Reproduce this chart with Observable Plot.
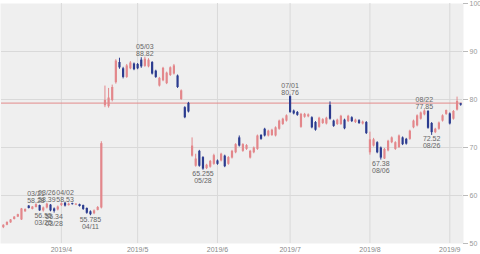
<!DOCTYPE html>
<html>
<head>
<meta charset="utf-8">
<script src="https://cdn.jsdelivr.net/npm/d3@7"></script>
<script src="https://cdn.jsdelivr.net/npm/@observablehq/plot@0.6"></script>
<style>
  html, body { margin: 0; padding: 0; background: #fff; }
  #chart svg { display: block; }
</style>
</head>
<body>
<div id="chart"></div>
<script>
const dates = [
  "03/08","03/11","03/12","03/13","03/14","03/15","03/18","03/19","03/20","03/21","03/22","03/25","03/26","03/27","03/28","03/29",
  "04/01","04/02","04/03","04/04","04/05","04/08","04/09","04/10","04/11","04/12","04/15","04/16","04/17","04/18","04/22","04/23","04/24","04/25","04/26","04/29","04/30",
  "05/01","05/02","05/03","05/06","05/07","05/08","05/09","05/10","05/13","05/14","05/15","05/16","05/17","05/20","05/21","05/22","05/23","05/24","05/28","05/29","05/30","05/31",
  "06/03","06/04","06/05","06/06","06/07","06/10","06/11","06/12","06/13","06/14","06/17","06/18","06/19","06/20","06/21","06/24","06/25","06/26","06/27","06/28",
  "07/01","07/02","07/03","07/05","07/08","07/09","07/10","07/11","07/12","07/15","07/16","07/17","07/18","07/19","07/22","07/23","07/24","07/25","07/26","07/29","07/30","07/31",
  "08/01","08/02","08/05","08/06","08/07","08/08","08/09","08/12","08/13","08/14","08/15","08/16","08/19","08/20","08/21","08/22","08/23","08/26","08/27","08/28","08/29","08/30",
  "09/03","09/04","09/05","09/06"
];
const open = [
  53.3,53.8,54.3,55.0,55.5,54.9,56.6,57.8,57.1,57.5,57.9,56.8,57.4,58.0,57.2,57.0,
  57.9,58.4,57.9,58.3,58.0,58.1,57.9,57.3,56.6,56.2,56.9,57.4,78.7,78.5,79.8,83.5,87.7,86.4,84.6,86.4,87.4,
  87.3,88.2,86.9,86.8,87.7,85.9,82.8,83.9,83.3,85.0,85.3,84.9,80.0,78.3,79.2,68.2,66.1,69.2,67.9,65.6,65.9,66.5,
  67.2,67.2,68.2,66.5,67.8,68.9,72.0,69.2,69.6,67.8,68.9,69.6,72.5,73.8,72.4,72.5,72.4,73.8,74.8,75.5,
  80.6,77.6,77.3,74.2,76.3,76.4,76.2,75.2,74.2,75.0,74.9,78.8,75.5,74.8,74.8,75.7,75.4,76.2,75.2,75.6,74.9,75.2,
  68.9,70.3,71.0,69.9,67.6,69.3,71.0,69.6,70.0,72.0,71.7,71.7,74.1,74.5,75.9,76.8,77.5,75.0,73.1,73.8,75.5,76.9,
  77.0,75.9,77.8,79.1
];
const high = [
  53.9,54.5,55.0,55.6,56.1,57.3,57.2,57.9,57.7,58.28,58.0,57.6,58.39,58.1,57.4,57.8,
  58.45,58.53,58.4,58.4,58.3,58.2,58.0,57.4,56.8,57.0,57.7,71.2,82.8,82.3,83.0,88.3,88.6,86.7,87.3,87.9,87.6,
  87.5,88.7,88.82,88.5,87.9,86.1,84.6,86.7,85.7,86.8,87.3,85.1,82.0,78.5,79.4,72.0,68.6,69.4,68.1,66.5,67.3,68.6,
  67.4,68.8,68.4,68.1,69.4,70.8,72.4,70.8,70.6,69.4,70.1,72.6,72.7,74.0,73.6,73.8,74.3,75.7,76.1,76.8,
  80.76,77.8,77.5,77.1,77.1,77.0,76.4,75.4,76.3,76.0,76.3,79.5,75.7,75.9,76.7,75.9,76.7,76.4,75.9,75.8,75.5,75.4,
  73.2,71.9,71.2,70.1,69.8,71.5,72.2,71.2,72.6,72.2,71.9,73.6,75.7,76.8,77.4,77.85,77.7,75.2,74.0,75.3,76.8,77.8,
  77.2,77.7,80.5,79.2
];
const low = [
  53.1,53.7,54.2,54.9,55.4,54.8,56.5,57.2,57.0,57.4,56.7,56.55,57.2,56.6,56.34,56.8,
  57.7,57.6,57.8,58.0,57.9,57.6,56.9,56.1,55.785,56.0,56.8,57.2,78.3,78.2,79.5,83.2,86.3,84.3,84.4,86.2,86.0,
  86.2,86.5,86.7,86.6,85.1,84.4,82.6,83.7,83.1,84.8,85.1,82.3,79.8,76.0,77.2,68.0,65.9,65.9,65.255,65.4,65.7,66.3,
  66.3,67.0,65.8,66.3,67.6,68.7,70.1,69.0,69.4,67.6,68.7,69.4,71.5,72.2,72.2,72.3,72.2,73.6,74.6,75.3,
  77.1,76.8,76.5,74.0,76.1,76.2,73.9,73.4,74.0,74.8,74.7,75.7,74.2,74.6,74.6,73.7,75.2,75.2,75.0,74.8,74.7,72.7,
  68.4,70.1,68.7,67.38,67.5,69.1,70.8,69.4,69.8,70.4,70.5,71.5,73.9,74.3,75.7,76.6,73.8,72.52,72.9,73.6,75.3,76.7,
  74.7,75.7,77.6,78.6
];
const close = [
  53.8,54.4,54.9,55.5,56.0,57.2,57.1,57.3,57.6,58.1,56.8,57.4,58.2,56.8,56.7,57.6,
  58.3,57.8,58.2,58.1,58.2,57.7,57.1,56.3,56.0,56.8,57.5,70.8,79.8,80.3,82.5,88.0,86.6,84.6,87.0,87.6,86.2,
  86.4,86.8,88.4,88.2,85.3,84.6,84.4,86.5,85.5,86.6,87.0,82.5,81.8,76.2,77.4,70.3,67.6,66.1,65.5,66.3,67.1,68.3,
  66.5,68.6,66.0,67.9,69.2,70.6,70.3,70.6,70.4,69.2,69.9,72.4,71.7,72.4,73.4,73.6,74.1,75.5,75.9,76.6,
  77.3,77.0,76.7,76.9,76.9,76.8,74.1,73.6,76.1,75.8,76.1,75.9,74.4,75.7,76.5,73.9,76.5,75.4,75.7,75.0,75.3,72.9,
  71.6,71.6,68.9,67.8,69.6,71.3,72.0,71.0,72.4,70.6,70.7,73.4,75.5,76.6,77.2,77.6,74.0,73.1,73.8,75.1,76.6,77.7,
  74.9,77.5,79.6,78.8
];
// month labels on the first trading day of each month
const monthDates = ["04/01","05/01","06/03","07/01","08/01","09/03"];
const monthLabels = ["2019/4","2019/5","2019/6","2019/7","2019/8","2019/9"];
// annotated local highs / lows
const highDates = ["03/21","03/26","04/02","05/03","07/01","08/22"];
const highValues = ["58.28","58.39","58.53","88.82","80.76","77.85"];
const lowDates = ["03/25","03/28","04/11","05/28","08/06","08/26"];
const lowValues = ["56.55","56.34","55.785","65.255","67.38","72.52"];
const refLine = 79.25;
const yTicks = [50, 60, 70, 80, 90, 100];

const candles = dates.map((d, i) => ({i, date: d, open: open[i], high: high[i], low: low[i], close: close[i]}));
const idx = d => dates.indexOf(d);
const monthIdx = monthDates.map(idx);
const monthMap = new Map(monthIdx.map((k, j) => [k, monthLabels[j]]));
const highs = highDates.map((d, j) => ({i: idx(d), date: d, v: +highValues[j], label: highValues[j]}));
const lows = lowDates.map((d, j) => ({i: idx(d), date: d, v: +lowValues[j], label: lowValues[j]}));

const UP = "#e3878b", DOWN = "#2b3b8f";
const col = d => d.close >= d.open ? UP : DOWN;
const font = "'Liberation Sans', Arial, sans-serif";

const chart = Plot.plot({
  width: 480,
  height: 254,
  marginLeft: 1,
  marginRight: 18,
  marginTop: 3,
  marginBottom: 11,
  style: {fontFamily: font, fontSize: "7px", background: "#fff"},
  x: {type: "linear", domain: [-0.5, dates.length - 0.5]},
  y: {domain: [50, 100]},
  marks: [
    Plot.frame({fill: "#efefef", stroke: null, insetLeft: -1, insetRight: -1}),
    Plot.ruleY([60, 70, 80, 90], {stroke: "#d9d9d9", strokeWidth: 1}),
    Plot.ruleX(monthIdx, {stroke: "#d9d9d9", strokeWidth: 1}),
    Plot.ruleY([refLine], {stroke: "#e28a8a", strokeWidth: 1}),
    Plot.ruleX(candles, {x: "i", y1: "low", y2: "high", stroke: col, strokeWidth: 1}),
    Plot.ruleX(candles, {x: "i", y1: "open", y2: "close", stroke: col, strokeWidth: 2.2}),
    Plot.text(highs, {x: "i", y: "v", text: d => `${d.date}\n${d.label}`, lineAnchor: "bottom", dy: -1, fill: "#666", fontSize: 7, lineHeight: 1}),
    Plot.text(lows, {x: "i", y: "v", text: d => `${d.label}\n${d.date}`, lineAnchor: "top", dy: 1, fill: "#666", fontSize: 7, lineHeight: 1}),
    Plot.axisY({anchor: "right", ticks: yTicks, tickSize: 5, tickPadding: 2, tickFormat: d => String(d), stroke: "#bbb", fill: "#999", label: null, fontSize: 7}),
    Plot.axisX({ticks: monthIdx, tickSize: 0, tickPadding: 4, tickFormat: d => monthMap.get(d), fill: "#888", label: null, fontSize: 7})
  ]
});
document.getElementById("chart").appendChild(chart);
</script>
</body>
</html>
